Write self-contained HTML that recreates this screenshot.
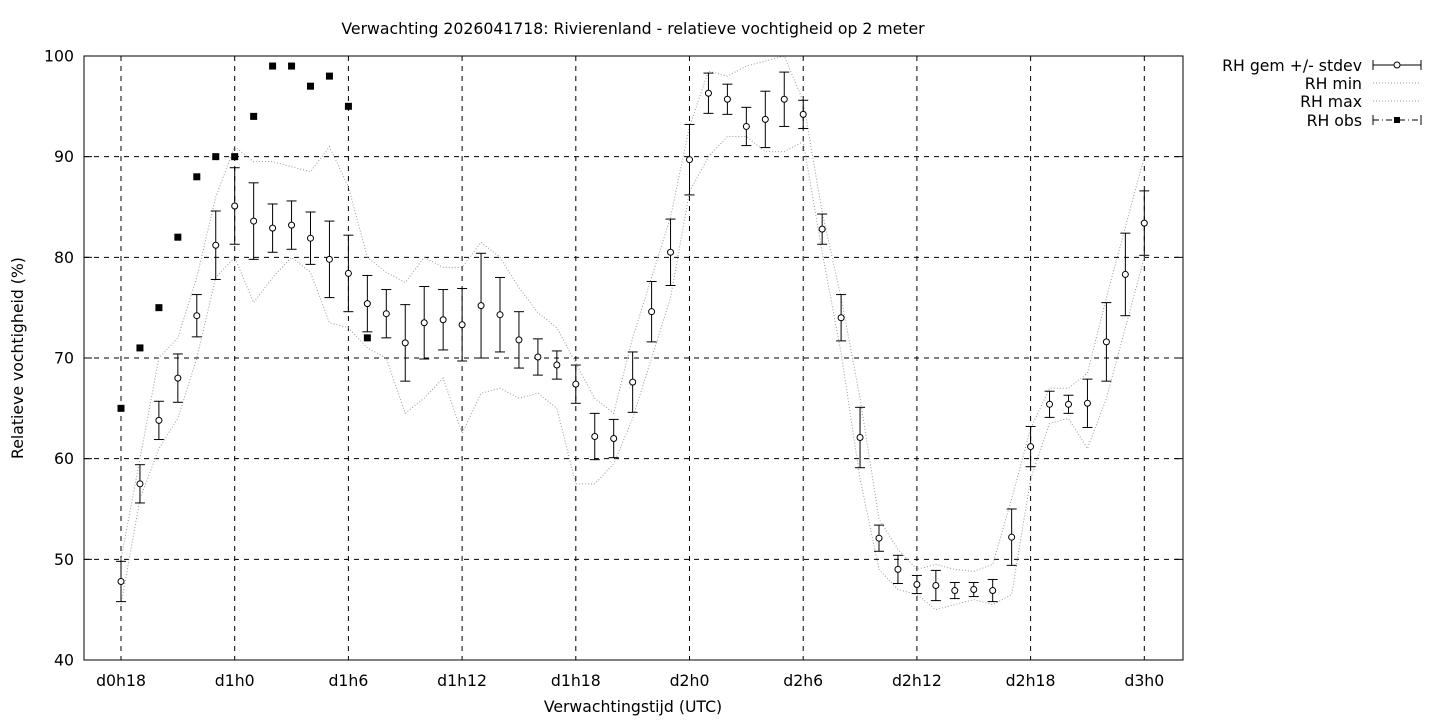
<!DOCTYPE html>
<html><head><meta charset="utf-8"><style>
html,body{margin:0;padding:0;background:#fff;}
svg{display:block;font-family:"DejaVu Sans","Liberation Sans",sans-serif;}
</style></head><body>
<svg id="c" width="1440" height="720" xmlns="http://www.w3.org/2000/svg">
<rect width="1440" height="720" fill="#fff"/>
<text x="633" y="34" font-size="15.7" text-anchor="middle">Verwachting 2026041718: Rivierenland - relatieve vochtigheid op 2 meter</text>
<text x="633" y="712" font-size="15.7" text-anchor="middle">Verwachtingstijd (UTC)</text>
<text transform="translate(23,358) rotate(-90)" font-size="15.7" text-anchor="middle">Relatieve vochtigheid (%)</text>
<g id="g"></g>
<rect x="84" y="56" width="1099" height="604" fill="none" stroke="#000" stroke-width="1"/>
<g font-size="15.7" text-anchor="end">
<text x="1362" y="71">RH gem +/- stdev</text>
<text x="1362" y="89">RH min</text>
<text x="1362" y="107">RH max</text>
<text x="1362" y="126">RH obs</text>
</g>
<g stroke="#000" stroke-width="1">
<line x1="1373" y1="65" x2="1421" y2="65"/><line x1="1373" y1="60" x2="1373" y2="70"/><line x1="1421" y1="60" x2="1421" y2="70"/>
<line x1="1373" y1="83" x2="1421" y2="83" stroke="#999" stroke-dasharray="1,2"/>
<line x1="1373" y1="101" x2="1421" y2="101" stroke="#999" stroke-dasharray="1,2"/>
<line x1="1373" y1="120" x2="1421" y2="120" stroke-dasharray="6,3,1,3"/><line x1="1373" y1="115" x2="1373" y2="125"/><line x1="1421" y1="115" x2="1421" y2="125"/>
</g>
<circle cx="1397" cy="65" r="3" fill="#fff" stroke="#000"/>
<rect x="1394" y="117" width="6" height="6" fill="#000"/>
</svg>
<script>
const X=h=>121+h*18.95, Y=v=>660-(v-40)*10.067;
const mean=[47.8,57.5,63.8,68,74.2,81.2,85.1,83.6,82.9,83.2,81.9,79.8,78.4,75.4,74.4,71.5,73.5,73.8,73.3,75.2,74.3,71.8,70.1,69.3,67.4,62.2,62,67.6,74.6,80.5,89.7,96.3,95.7,93,93.7,95.7,94.2,82.8,74,62.1,52.1,49,47.5,47.4,46.9,47,46.9,52.2,61.2,65.4,65.4,65.5,71.6,78.3,83.4];
const sd=[2,1.9,1.9,2.4,2.1,3.4,3.8,3.8,2.4,2.4,2.6,3.8,3.8,2.8,2.4,3.8,3.6,3,3.6,5.2,3.7,2.8,1.8,1.4,1.9,2.3,1.9,3,3,3.3,3.5,2,1.5,1.9,2.8,2.7,1.4,1.5,2.3,3,1.3,1.4,0.9,1.5,0.8,0.7,1.1,2.8,2,1.3,0.9,2.4,3.9,4.1,3.2];
const mx=[50,60,70,72,78,86,91,89.5,89.5,89,88.5,91,87,80,78.5,77.5,80,79,79,81.5,80,77,74.5,73,69.5,66,64.5,72,78,84,93,98.5,98,99,99.5,100,95.5,84.5,76,66,54,51,49,49.5,49,48.8,49.5,56,63,67,67,68.5,76,83,90];
const mn=[45.5,56,61,64,70,78,80,75.5,78,80,78.5,73.5,73,71,70,64.5,66,68,62.5,66.5,67,66,66.5,65,57.5,57.5,59.5,64,70,76,86.5,90,92,92,90.5,90.5,91.5,80.5,70.5,58,49,47,46.5,45,45.5,46,45.5,46.5,58,63.5,64,61,66,73,80];
const obs=[65,71,75,82,88,90,90,94,99,99,97,98,95,72];
let s='';
for(let v=40;v<=100;v+=10){const y=Y(v);
 if(v>40&&v<100)s+=`<line x1="84" y1="${y}" x2="1183" y2="${y}" stroke="#000" stroke-dasharray="5,5"/>`;
 s+=`<line x1="84" y1="${y}" x2="92" y2="${y}" stroke="#000"/><line x1="1175" y1="${y}" x2="1183" y2="${y}" stroke="#000"/>`;
 s+=`<text x="74" y="${y+5.5}" font-size="15.7" text-anchor="end">${v}</text>`;}
const lab=['d0h18','d1h0','d1h6','d1h12','d1h18','d2h0','d2h6','d2h12','d2h18','d3h0'];
lab.forEach((l,i)=>{const x=X(i*6);
 s+=`<line x1="${x}" y1="56" x2="${x}" y2="660" stroke="#000" stroke-dasharray="5,5"/>`;
 s+=`<text x="${x}" y="686" font-size="15.7" text-anchor="middle">${l}</text>`;});
const pl=a=>a.map((v,i)=>X(i)+','+Y(v)).join(' ');
s+=`<polyline points="${pl(mx)}" fill="none" stroke="#999" stroke-dasharray="1,2"/>`;
s+=`<polyline points="${pl(mn)}" fill="none" stroke="#999" stroke-dasharray="1,2"/>`;
mean.forEach((m,i)=>{const x=X(i),a=Y(m+sd[i]),b=Y(m-sd[i]);
 s+=`<line x1="${x}" y1="${a}" x2="${x}" y2="${b}" stroke="#000"/><line x1="${x-5}" y1="${a}" x2="${x+5}" y2="${a}" stroke="#000"/><line x1="${x-5}" y1="${b}" x2="${x+5}" y2="${b}" stroke="#000"/>`;
 s+=`<circle cx="${x}" cy="${Y(m)}" r="3" fill="#fff" stroke="#000"/>`;});
obs.forEach((o,i)=>{s+=`<rect x="${X(i)-3.5}" y="${Y(o)-3.5}" width="7" height="7" fill="#000"/>`;});
document.getElementById('g').innerHTML=s;
</script>
</body></html>
